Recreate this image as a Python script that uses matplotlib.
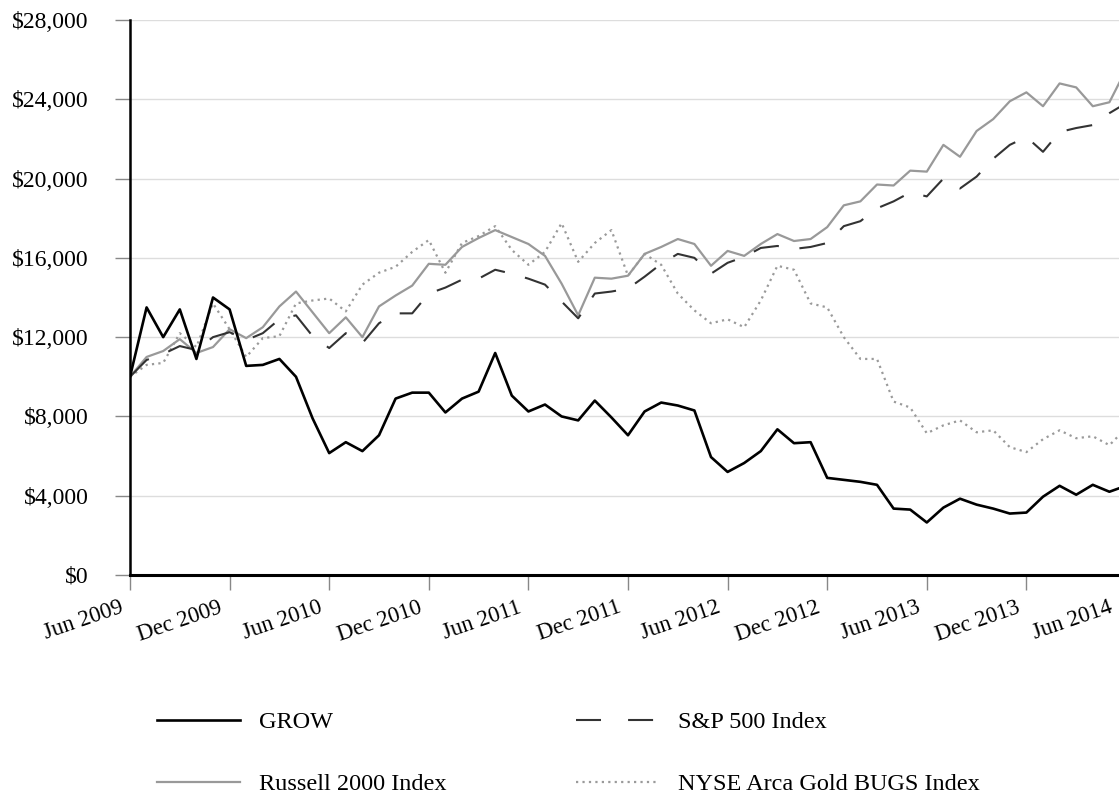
import matplotlib
matplotlib.use("Agg")
import matplotlib.pyplot as plt
import matplotlib.transforms as mtransforms
from matplotlib.lines import Line2D

plt.rcParams['font.family'] = ['Liberation Serif', 'DejaVu Serif']

# monthly values, Jun 2009 .. Jun 2014
grow = [10000, 13500, 12000, 13400, 10900, 14000, 13400, 10550, 10600, 10900, 10000,
        7900, 6150, 6700, 6250, 7050, 8900, 9200, 9200, 8200, 8900,
        9250, 11200, 9050, 8250, 8600, 8000, 7800, 8800, 7950, 7050,
        8250, 8700, 8550, 8300, 5950, 5200, 5650, 6250, 7350, 6650,
        6700, 4900, 4800, 4700, 4550, 3350, 3300, 2650, 3400, 3850,
        3550, 3350, 3100, 3150, 3950, 4500, 4050, 4550, 4200, 4500]
russell = [10000, 11000, 11300, 11900, 11200, 11500, 12400, 11950, 12500, 13550, 14300,
           13250, 12200, 13000, 12000, 13550, 14100, 14600, 15700, 15650, 16550,
           17000, 17400, 17050, 16700, 16100, 14700, 13100, 15000, 14950, 15100,
           16200, 16550, 16950, 16700, 15600, 16350, 16100, 16700, 17200, 16850,
           16950, 17550, 18650, 18850, 19700, 19650, 20400, 20350, 21700, 21100,
           22400, 23000, 23900, 24350, 23650, 24800, 24600, 23650, 23850, 25500]
sp500 = [10000, 10850, 11150, 11550, 11350, 12000, 12250, 11850, 12200, 12900, 13100,
         12050, 11450, 12200, 11700, 12700, 13200, 13200, 14200, 14500, 14900,
         14950, 15400, 15200, 14950, 14650, 13800, 12950, 14200, 14300, 14450,
         15050, 15700, 16200, 16000, 15200, 15750, 16050, 16500, 16600, 16450,
         16550, 16750, 17600, 17850, 18500, 18850, 19300, 19100, 20000, 19500,
         20100, 21000, 21700, 22100, 21350, 22350, 22550, 22700, 23300, 23800]
gold = [10000, 10600, 10700, 12200, 11500, 13700, 12400, 11000, 11950, 12050, 13700,
        13850, 13950, 13300, 14650, 15250, 15550, 16300, 16900, 15250, 16750,
        17100, 17600, 16400, 15650, 16300, 17750, 15800, 16750, 17400, 15100,
        16200, 15650, 14200, 13350, 12700, 12900, 12500, 13850, 15600, 15400,
        13700, 13500, 12000, 10900, 10900, 8750, 8450, 7150, 7550, 7800,
        7200, 7300, 6450, 6200, 6850, 7300, 6900, 7000, 6550, 7400]

tick_labels = ['Jun 2009', 'Dec 2009', 'Jun 2010', 'Dec 2010', 'Jun 2011', 'Dec 2011',
               'Jun 2012', 'Dec 2012', 'Jun 2013', 'Dec 2013', 'Jun 2014']
y_ticks = [0, 4000, 8000, 12000, 16000, 20000, 24000, 28000]

months = list(range(len(grow)))

W, H = 1119, 796
fig = plt.figure(figsize=(W / 100, H / 100), dpi=100)
ax = fig.add_axes([130 / W, 1 - 575 / H, (1126 - 130) / W, (575 - 20) / H])

ax.plot(months, gold, color='#9a9a9a', lw=1.6, linestyle=(0, (1, 1.9)))
ax.plot(months, russell, color='#999999', lw=1.6)
ax.plot(months, sp500, color='#333333', lw=1.5, linestyle=(0, (12.5, 10)))
ax.plot(months, grow, color='black', lw=1.9)

ax.set_xlim(0, 60)
ax.set_ylim(0, 28000)
ax.set_yticks(y_ticks)
ax.set_yticklabels(['$' + format(v, ',') for v in y_ticks], fontsize=17)
ax.set_xticks(range(0, 61, 6))
ax.set_xticklabels(tick_labels, fontsize=16.5, rotation=19, ha='right',
                   rotation_mode='anchor')
ax.grid(axis='y', color='#dddddd', lw=1)
ax.set_axisbelow(True)
for s in ['top', 'right']:
    ax.spines[s].set_visible(False)
ax.spines['left'].set_linewidth(1.8)
ax.spines['bottom'].set_linewidth(2.2)
ax.tick_params(axis='y', length=10.8, width=1, color='#888888', pad=19)
ax.tick_params(axis='x', length=10.8, width=1, color='#888888', pad=5)

# labels sit a little left of their ticks; the last one a bit more so it fits
xlabels = ax.get_xticklabels()
for i, lbl in enumerate(xlabels):
    dx = -18 if i == len(xlabels) - 1 else -11
    shift = mtransforms.ScaledTranslation(dx / 100, 0, fig.dpi_scale_trans)
    lbl.set_transform(lbl.get_transform() + shift)

h_grow = Line2D([], [], color='black', lw=1.9)
h_rus = Line2D([], [], color='#999999', lw=1.6)
h_sp = Line2D([], [], color='#333333', lw=1.5, linestyle=(0, (12, 13)))
h_gold = Line2D([], [], color='#9a9a9a', lw=1.6, linestyle=(0, (1, 1.9)))

common = dict(frameon=False, fontsize=17.5, handlelength=3.4, handletextpad=0.8,
              labelspacing=1.65, borderpad=0, borderaxespad=0,
              bbox_transform=fig.transFigure, loc='upper left')
fig.legend([h_grow, h_rus], ['GROW', 'Russell 2000 Index'],
           bbox_to_anchor=(157 / W, 1 - 711 / H), **common)
fig.legend([h_sp, h_gold], ['S&P 500 Index', 'NYSE Arca Gold BUGS Index'],
           bbox_to_anchor=(576 / W, 1 - 711 / H), **common)

fig.savefig('out.png', dpi=100)
